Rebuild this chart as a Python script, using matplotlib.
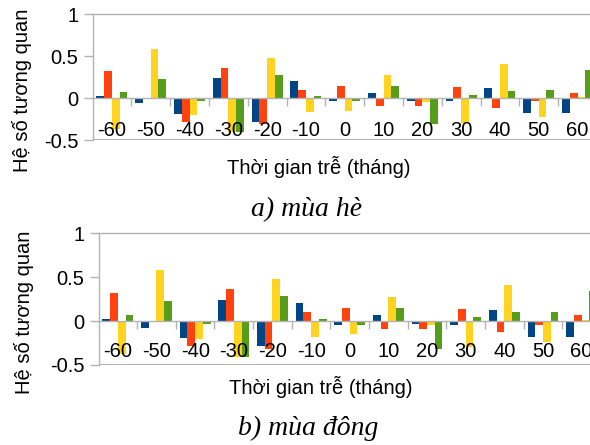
import numpy as np
import matplotlib
matplotlib.use("Agg")
import matplotlib.pyplot as plt

lags = ["-60", "-50", "-40", "-30", "-20", "-10", "0", "10", "20", "30", "40", "50", "60"]

# mua he (a)
he_s1 = [0.03, -0.06, -0.19, 0.24, -0.29, 0.21, -0.04, 0.06, -0.03, -0.04, 0.12, -0.18, -0.18]
he_s2 = [0.32, -0.01, -0.28, 0.36, -0.31, 0.10, 0.15, -0.09, -0.09, 0.13, -0.12, -0.04, 0.06]
he_s3 = [-0.37, 0.58, -0.20, -0.41, 0.48, -0.17, -0.15, 0.27, -0.05, -0.30, 0.41, -0.23, 0.01]
he_s4 = [0.07, 0.23, -0.04, -0.41, 0.28, 0.02, -0.04, 0.15, -0.31, 0.04, 0.09, 0.10, 0.34]

# mua dong (b)
dong_s1 = [0.02, -0.08, -0.19, 0.24, -0.28, 0.205, -0.04, 0.07, -0.03, -0.04, 0.125, -0.18, -0.18]
dong_s2 = [0.32, -0.01, -0.28, 0.365, -0.32, 0.10, 0.15, -0.09, -0.09, 0.14, -0.12, -0.04, 0.07]
dong_s3 = [-0.37, 0.58, -0.20, -0.41, 0.48, -0.18, -0.145, 0.27, -0.05, -0.30, 0.41, -0.24, 0.015]
dong_s4 = [0.07, 0.23, -0.03, -0.41, 0.285, 0.02, -0.04, 0.15, -0.32, 0.045, 0.10, 0.10, 0.34]

colors = ["#004586", "#ff420e", "#ffd320", "#579d1c"]
grey = "#b3b3b3"
sans = "Liberation Sans"
fs = 14.5

W, H = 590, 445
fig = plt.figure(figsize=(W / 100, H / 100), dpi=100)


def px_rect(left, top, right, bottom):
    return [left / W, 1 - bottom / H, (right - left) / W, (bottom - top) / H]


def draw_panel(ax, series, label_pad):
    x = np.arange(len(lags))
    bw = 0.2
    for i, vals in enumerate(series):
        ax.bar(x + (i - 1.5) * bw, vals, width=bw, color=colors[i], align="center", zorder=1)
    ax.set_xlim(-0.5, len(lags) - 0.5)
    ax.set_ylim(-0.5, 1)
    ax.set_yticks([-0.5, 0, 0.5, 1])
    ax.set_yticklabels(["-0.5", "0", "0.5", "1"], fontsize=fs, family=sans)
    ax.tick_params(axis="y", length=6.5, width=1, color=grey, pad=3.5)
    # category axis sits on zero
    ax.spines["bottom"].set_position(("data", 0))
    for s in ax.spines.values():
        s.set_color(grey)
        s.set_linewidth(1)
    ax.axhline(-0.5, color=grey, lw=1.5, zorder=3)
    ax.set_xticks(np.arange(len(lags) - 1) + 0.5)
    ax.set_xticklabels([])
    ax.tick_params(axis="x", which="major", length=6, width=1, color=grey, direction="out")
    ax.set_xticks(x, minor=True)
    ax.set_xticklabels(lags, minor=True, fontsize=fs, family=sans)
    ax.tick_params(axis="x", which="minor", length=0, pad=label_pad)


ax1 = fig.add_axes(px_rect(92.5, 14.3, 92.5 + 13 * 38.8, 140))
draw_panel(ax1, [he_s1, he_s2, he_s3, he_s4], 16.5)

ax2 = fig.add_axes(px_rect(98.5, 233.3, 98.5 + 13 * 38.65, 365))
draw_panel(ax2, [dong_s1, dong_s2, dong_s3, dong_s4], 15)

# axis titles and captions
fig.text(22 / W, 1 - 90 / H, "Hệ số tương quan", rotation=90, ha="center", va="center",
         fontsize=fs, family=sans)
fig.text(24 / W, 1 - 312 / H, "Hệ số tương quan", rotation=90, ha="center", va="center",
         fontsize=fs, family=sans)
fig.text(319 / W, 1 - 167 / H, "Thời gian trễ (tháng)", ha="center", va="center",
         fontsize=fs, family=sans)
fig.text(321 / W, 1 - 387 / H, "Thời gian trễ (tháng)", ha="center", va="center",
         fontsize=fs, family=sans)
fig.text(307 / W, 1 - 210 / H, "a) mùa hè", ha="center", va="center",
         fontsize=20, family="Liberation Serif", style="italic")
fig.text(308 / W, 1 - 428 / H, "b) mùa đông", ha="center", va="center",
         fontsize=20, family="Liberation Serif", style="italic")

fig.savefig("out.png", dpi=100)
